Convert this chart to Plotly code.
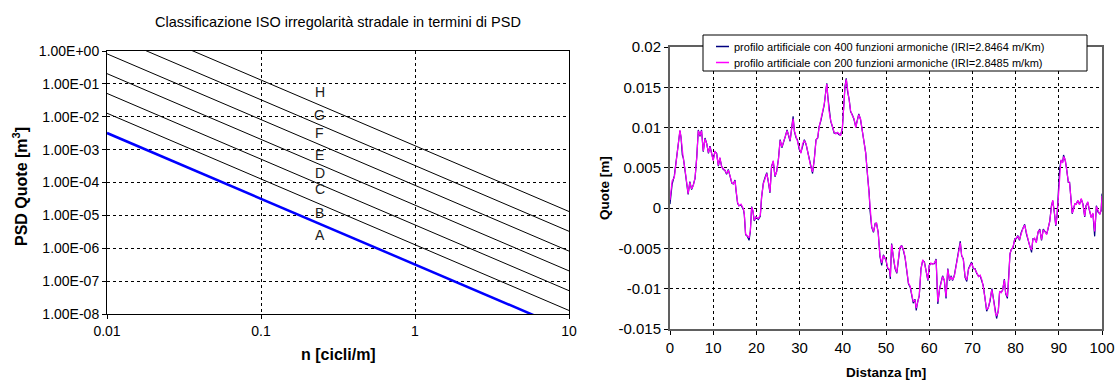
import numpy as np
import plotly.graph_objects as go

# ---------------- Left chart data (ISO 8608 road classes) ----------------
n_estremi = [0.01, 10]                      # cicli/m, ends of each class line
psd_a_n001 = [3.2e-3, 1.28e-2, 5.12e-2, 2.048e-1, 8.192e-1, 3.2768, 13.1072]   # PSD at n = 0.01
psd_a_n10 = [3.2e-9, 1.28e-8, 5.12e-8, 2.048e-7, 8.192e-7, 3.2768e-6, 1.31072e-5]  # PSD at n = 10
classi = ["A", "B", "C", "D", "E", "F", "G", "H"]
label_n = 0.24
label_psd = [2.6e-6, 1.22e-5, 6.3e-5, 1.9e-4, 6.9e-4, 3.15e-3, 1.14e-2, 5.8e-2]
y_tickvals = [1e0, 1e-1, 1e-2, 1e-3, 1e-4, 1e-5, 1e-6, 1e-7, 1e-8]
y_ticktext = ["1.00E+00", "1.00E-01", "1.00E-02", "1.00E-03", "1.00E-04",
              "1.00E-05", "1.00E-06", "1.00E-07", "1.00E-08"]
x_tickvals = [0.01, 0.1, 1, 10]
x_ticktext = ["0.01", "0.1", "1", "10"]

# ---------------- Right chart data (artificial road profile) ----------------
distanza = [
    0.0, 0.5, 1.0, 1.5, 1.9, 2.3, 2.55, 2.85, 3.1, 3.5,
    3.9, 4.2, 4.6, 5.0, 5.4, 5.8, 6.2, 6.55, 6.95, 7.3,
    7.7, 8.1, 8.5, 8.9, 9.25, 9.65, 10.0, 10.4, 10.8, 11.2,
    11.55, 11.95, 12.35, 12.7, 13.1, 13.5, 13.9, 14.3, 14.65, 15.05,
    15.3, 15.65, 15.95, 16.45, 17.0, 17.2, 17.5, 17.9, 18.3, 18.6,
    18.9, 19.2, 19.5, 19.9, 20.45, 20.9, 21.2, 21.6, 22.0, 22.4,
    22.75, 23.15, 23.5, 23.9, 24.3, 24.7, 25.1, 25.5, 25.9, 26.3,
    26.7, 27.1, 27.5, 27.8, 28.2, 28.5, 28.8, 29.2, 29.5, 29.9,
    30.3, 30.7, 31.1, 31.5, 31.8, 32.2, 32.6, 33.0, 33.4, 33.8,
    34.2, 34.5, 34.9, 35.3, 35.7, 36.1, 36.3, 36.5, 36.8, 37.2,
    37.6, 38.0, 38.4, 38.8, 39.2, 39.5, 39.9, 40.2, 40.5, 40.8,
    41.1, 41.5, 41.8, 42.2, 42.6, 43.0, 43.3, 43.7, 44.1, 44.5,
    44.9, 45.3, 45.7, 46.1, 46.3, 46.7, 47.1, 47.5, 47.8, 48.2,
    48.6, 49.0, 49.4, 49.8, 50.0, 50.4, 50.8, 51.0, 51.3, 51.7,
    52.1, 52.5, 52.9, 53.2, 53.6, 54.0, 54.4, 54.8, 55.2, 55.6,
    55.9, 56.3, 56.7, 57.0, 57.3, 57.7, 58.1, 58.5, 58.9, 59.3,
    59.7, 60.0, 60.4, 60.8, 61.2, 61.6, 62.0, 62.4, 62.7, 63.1,
    63.5, 63.9, 64.3, 64.7, 65.1, 65.4, 65.8, 66.2, 66.6, 67.0,
    67.2, 67.5, 67.9, 68.3, 68.7, 69.1, 69.5, 69.8, 70.2, 70.6,
    71.0, 71.4, 71.8, 72.2, 72.5, 72.9, 73.3, 73.7, 74.1, 74.5,
    74.9, 75.3, 75.6, 76.0, 76.3, 76.7, 77.0, 77.4, 77.7, 78.1,
    78.4, 78.7, 79.0, 79.4, 79.8, 80.2, 80.5, 80.9, 81.3, 81.7,
    82.1, 82.5, 82.9, 83.3, 83.7, 84.0, 84.4, 84.8, 85.2, 85.6,
    86.0, 86.4, 86.8, 87.2, 87.5, 87.9, 88.3, 88.6, 89.0, 89.3,
    89.6, 89.9, 90.2, 90.5, 90.9, 91.1, 91.5, 91.8, 92.2, 92.5,
    92.8, 93.1, 93.4, 93.7, 94.0, 94.4, 94.8, 95.2, 95.6, 96.0,
    96.3, 96.7, 97.1, 97.5, 97.9, 98.3, 98.7, 99.1, 99.5, 99.8,
    100.0,
]

quote_400 = [
    0.0005, 0.0030, 0.0040, 0.0062, 0.0077, 0.0096, 0.0088, 0.0066, 0.0062, 0.0046,
    0.0025, 0.0017, 0.0033, 0.0023, 0.0029, 0.0037, 0.0064, 0.0097, 0.0089, 0.0097,
    0.0070, 0.0087, 0.0080, 0.0068, 0.0077, 0.0066, 0.0060, 0.0070, 0.0068, 0.0052,
    0.0062, 0.0052, 0.0048, 0.0047, 0.0042, 0.0048, 0.0039, 0.0031, 0.0030, 0.0035,
    0.0021, 0.0006, 0.0003, 0.0004, -0.0002, -0.0008, -0.0033, -0.0035, -0.0040, -0.0029,
    0.0002, -0.0004, -0.0016, -0.0011, -0.0014, -0.0010, 0.0013, 0.0031, 0.0038, 0.0044,
    0.0033, 0.0019, 0.0052, 0.0058, 0.0039, 0.0046, 0.0061, 0.0085, 0.0075, 0.0081,
    0.0089, 0.0097, 0.0089, 0.0083, 0.0101, 0.0114, 0.0095, 0.0087, 0.0085, 0.0073,
    0.0069, 0.0079, 0.0085, 0.0079, 0.0071, 0.0061, 0.0050, 0.0043, 0.0061, 0.0085,
    0.0087, 0.0101, 0.0108, 0.0118, 0.0128, 0.0147, 0.0155, 0.0140, 0.0122, 0.0108,
    0.0101, 0.0093, 0.0093, 0.0093, 0.0091, 0.0091, 0.0099, 0.0130, 0.0151, 0.0161,
    0.0145, 0.0134, 0.0120, 0.0116, 0.0110, 0.0101, 0.0108, 0.0117, 0.0110, 0.0097,
    0.0079, 0.0069, 0.0042, 0.0019, -0.0003, -0.0024, -0.0030, -0.0019, -0.0019, -0.0030,
    -0.0060, -0.0071, -0.0058, -0.0063, -0.0065, -0.0075, -0.0077, -0.0088, -0.0044, -0.0061,
    -0.0075, -0.0081, -0.0060, -0.0050, -0.0046, -0.0052, -0.0061, -0.0081, -0.0094, -0.0098,
    -0.0106, -0.0118, -0.0113, -0.0127, -0.0117, -0.0109, -0.0075, -0.0065, -0.0067, -0.0079,
    -0.0090, -0.0071, -0.0069, -0.0069, -0.0069, -0.0063, -0.0119, -0.0100, -0.0094, -0.0084,
    -0.0090, -0.0112, -0.0075, -0.0090, -0.0084, -0.0090, -0.0084, -0.0073, -0.0059, -0.0046,
    -0.0041, -0.0059, -0.0063, -0.0086, -0.0091, -0.0075, -0.0071, -0.0067, -0.0075, -0.0075,
    -0.0081, -0.0084, -0.0084, -0.0090, -0.0096, -0.0111, -0.0128, -0.0123, -0.0115, -0.0100,
    -0.0115, -0.0131, -0.0137, -0.0127, -0.0104, -0.0104, -0.0102, -0.0088, -0.0106, -0.0112,
    -0.0088, -0.0057, -0.0051, -0.0049, -0.0038, -0.0038, -0.0034, -0.0040, -0.0030, -0.0026,
    -0.0020, -0.0032, -0.0040, -0.0049, -0.0055, -0.0038, -0.0038, -0.0042, -0.0030, -0.0026,
    -0.0040, -0.0026, -0.0030, -0.0032, -0.0026, -0.0016, 0.0003, 0.0009, -0.0007, -0.0022,
    -0.0009, 0.0015, 0.0049, 0.0059, 0.0057, 0.0066, 0.0059, 0.0049, 0.0032, 0.0032,
    0.0007, -0.0007, -0.0001, 0.0005, 0.0005, 0.0009, 0.0005, 0.0011, 0.0005, -0.0011,
    0.0003, 0.0007, -0.0003, -0.0011, -0.0007, -0.0035, 0.0003, -0.0005, -0.0007, -0.0003,
    0.0018,
]

quote_200 = [
    0.0010, 0.0034, 0.0038, 0.0063, 0.0076, 0.0097, 0.0088, 0.0067, 0.0061, 0.0047,
    0.0026, 0.0018, 0.0032, 0.0024, 0.0028, 0.0038, 0.0063, 0.0096, 0.0090, 0.0096,
    0.0071, 0.0086, 0.0080, 0.0069, 0.0076, 0.0067, 0.0059, 0.0071, 0.0067, 0.0053,
    0.0063, 0.0051, 0.0049, 0.0047, 0.0043, 0.0047, 0.0040, 0.0032, 0.0030, 0.0034,
    0.0022, 0.0007, 0.0003, 0.0005, -0.0001, -0.0007, -0.0032, -0.0034, -0.0037, -0.0028,
    0.0001, -0.0003, -0.0015, -0.0011, -0.0013, -0.0009, 0.0014, 0.0030, 0.0038, 0.0043,
    0.0034, 0.0020, 0.0051, 0.0059, 0.0040, 0.0045, 0.0060, 0.0084, 0.0076, 0.0082,
    0.0088, 0.0096, 0.0090, 0.0084, 0.0100, 0.0111, 0.0096, 0.0088, 0.0084, 0.0074,
    0.0068, 0.0080, 0.0084, 0.0080, 0.0072, 0.0060, 0.0051, 0.0045, 0.0060, 0.0084,
    0.0088, 0.0100, 0.0109, 0.0117, 0.0129, 0.0146, 0.0154, 0.0141, 0.0121, 0.0109,
    0.0100, 0.0094, 0.0092, 0.0094, 0.0092, 0.0090, 0.0100, 0.0129, 0.0150, 0.0160,
    0.0146, 0.0133, 0.0121, 0.0115, 0.0111, 0.0100, 0.0109, 0.0116, 0.0111, 0.0096,
    0.0080, 0.0068, 0.0043, 0.0018, -0.0002, -0.0023, -0.0029, -0.0020, -0.0018, -0.0031,
    -0.0059, -0.0068, -0.0059, -0.0062, -0.0064, -0.0074, -0.0076, -0.0085, -0.0045, -0.0060,
    -0.0074, -0.0080, -0.0061, -0.0049, -0.0047, -0.0051, -0.0060, -0.0080, -0.0093, -0.0097,
    -0.0105, -0.0116, -0.0114, -0.0124, -0.0118, -0.0108, -0.0076, -0.0064, -0.0068, -0.0078,
    -0.0089, -0.0072, -0.0068, -0.0070, -0.0068, -0.0064, -0.0116, -0.0101, -0.0093, -0.0085,
    -0.0089, -0.0110, -0.0076, -0.0089, -0.0085, -0.0089, -0.0085, -0.0072, -0.0060, -0.0047,
    -0.0043, -0.0058, -0.0064, -0.0085, -0.0089, -0.0076, -0.0070, -0.0068, -0.0074, -0.0076,
    -0.0080, -0.0085, -0.0083, -0.0089, -0.0097, -0.0110, -0.0126, -0.0124, -0.0114, -0.0101,
    -0.0114, -0.0130, -0.0134, -0.0128, -0.0103, -0.0105, -0.0101, -0.0089, -0.0105, -0.0110,
    -0.0089, -0.0056, -0.0052, -0.0048, -0.0039, -0.0037, -0.0035, -0.0039, -0.0031, -0.0025,
    -0.0021, -0.0031, -0.0039, -0.0048, -0.0052, -0.0039, -0.0037, -0.0043, -0.0029, -0.0027,
    -0.0039, -0.0027, -0.0029, -0.0033, -0.0025, -0.0017, 0.0002, 0.0010, -0.0006, -0.0021,
    -0.0010, 0.0014, 0.0048, 0.0060, 0.0056, 0.0064, 0.0060, 0.0048, 0.0033, 0.0031,
    0.0008, -0.0006, -0.0002, 0.0006, 0.0004, 0.0010, 0.0004, 0.0012, 0.0004, -0.0010,
    0.0002, 0.0008, -0.0002, -0.0012, -0.0006, -0.0029, 0.0002, -0.0004, -0.0008, -0.0002,
    0.0015,
]

q_tickvals = [0.02, 0.015, 0.01, 0.005, 0, -0.005, -0.01, -0.015]
q_ticktext = ["0.02", "0.015", "0.01", "0.005", "0", "-0.005", "-0.01", "-0.015"]
d_tickvals = [0, 10, 20, 30, 40, 50, 60, 70, 80, 90, 100]

nomi_serie = ["profilo artificiale con 400 funzioni armoniche (IRI=2.8464 m/Km)",
              "profilo artificiale con 200 funzioni armoniche (IRI=2.8485 m/km)"]
colori_serie = ["#000080", "#FF00FF"]

# ---------------- Figure ----------------
W, H = 1115, 380
FONT = "Liberation Sans, Arial, sans-serif"


def px_x(v):
    return v / W


def px_y(v):
    return 1 - v / H


fig = go.Figure()

for i, (p0, p1) in enumerate(zip(psd_a_n001, psd_a_n10)):
    is_a = i == 0
    fig.add_trace(go.Scatter(
        x=n_estremi, y=[p0, p1], mode="lines",
        line=dict(color="#0000FF" if is_a else "#000000", width=2.5 if is_a else 1),
        showlegend=False, xaxis="x", yaxis="y", hoverinfo="skip",
    ))

for nome, serie, col in zip(nomi_serie, [quote_400, quote_200], colori_serie):
    fig.add_trace(go.Scatter(
        x=distanza, y=serie, mode="lines", name=nome,
        line=dict(color=col, width=1.2), xaxis="x2", yaxis="y2", showlegend=False,
    ))

grid = dict(showgrid=True, gridcolor="#000000", gridwidth=1, griddash="3px,3px",
            zeroline=False, ticks="outside", ticklen=4, tickcolor="#000000",
            automargin=False)

fig.update_layout(
    width=W, height=H, autosize=False,
    margin=dict(l=0, r=0, t=0, b=0, pad=0),
    paper_bgcolor="white", plot_bgcolor="white",
    font=dict(family=FONT, color="#000000"),
    xaxis=dict(type="log", range=[-2, 1], domain=[px_x(107), px_x(569)], anchor="y",
               tickvals=x_tickvals, ticktext=x_ticktext, tickfont=dict(size=14),
               showline=True, linecolor="#000000", linewidth=1, mirror=True, **grid),
    yaxis=dict(type="log", range=[-8, 0], domain=[px_y(314), px_y(51)], anchor="x",
               tickvals=y_tickvals, ticktext=y_ticktext, tickfont=dict(size=14),
               showline=True, linecolor="#000000", linewidth=1, mirror=True, **grid),
    xaxis2=dict(range=[0, 100], domain=[px_x(670), px_x(1102)], anchor="y2",
                tickvals=d_tickvals, tickfont=dict(size=15),
                showline=True, linecolor="#606060", linewidth=2, mirror=True, **grid),
    yaxis2=dict(range=[-0.015, 0.02], domain=[px_y(329), px_y(47)], anchor="x2",
                tickvals=q_tickvals, ticktext=q_ticktext, tickfont=dict(size=15),
                showline=True, linecolor="#606060", linewidth=2, mirror=True, **grid),
    showlegend=False,
)

# Legend box of the right chart (drawn as shapes + text)
shapes = [dict(type="rect", xref="paper", yref="paper",
               x0=px_x(703), x1=px_x(1087), y0=px_y(71), y1=px_y(35),
               fillcolor="white", line=dict(color="#000000", width=1), layer="above")]
legend_rows = [46.5, 62.5]
for row_y, col in zip(legend_rows, colori_serie):
    shapes.append(dict(type="line", xref="paper", yref="paper",
                       x0=px_x(716), x1=px_x(729), y0=px_y(row_y), y1=px_y(row_y),
                       line=dict(color=col, width=1.5), layer="above"))

annotations = [
    dict(text="Classificazione ISO irregolarità stradale in termini di PSD",
         x=px_x(338), y=px_y(22), xref="paper", yref="paper",
         xanchor="center", yanchor="middle", showarrow=False, font=dict(size=14.5)),
    dict(text="<b>PSD Quote [m<sup>3</sup>]</b>", x=px_x(20), y=px_y(187),
         xref="paper", yref="paper", xanchor="center", yanchor="middle",
         textangle=-90, showarrow=False, font=dict(size=16)),
    dict(text="<b>n [cicli/m]</b>", x=px_x(338), y=px_y(354),
         xref="paper", yref="paper", xanchor="center", yanchor="middle",
         showarrow=False, font=dict(size=16)),
    dict(text="<b>Quote [m]</b>", x=px_x(604), y=px_y(188),
         xref="paper", yref="paper", xanchor="center", yanchor="middle",
         textangle=-90, showarrow=False, font=dict(size=13.5)),
    dict(text="<b>Distanza [m]</b>", x=px_x(886), y=px_y(372),
         xref="paper", yref="paper", xanchor="center", yanchor="middle",
         showarrow=False, font=dict(size=13.5)),
]
for row_y, nome in zip(legend_rows, nomi_serie):
    annotations.append(dict(text=nome, x=px_x(732), y=px_y(row_y), xref="paper", yref="paper",
                            xanchor="left", yanchor="middle", showarrow=False,
                            font=dict(size=11)))
for c, p in zip(classi, label_psd):
    annotations.append(dict(text=c, x=np.log10(label_n), y=np.log10(p), xref="x", yref="y",
                            xanchor="center", yanchor="middle", showarrow=False,
                            font=dict(size=14, color="#202020")))
fig.update_layout(shapes=shapes, annotations=annotations)

fig.write_html("out.html")
